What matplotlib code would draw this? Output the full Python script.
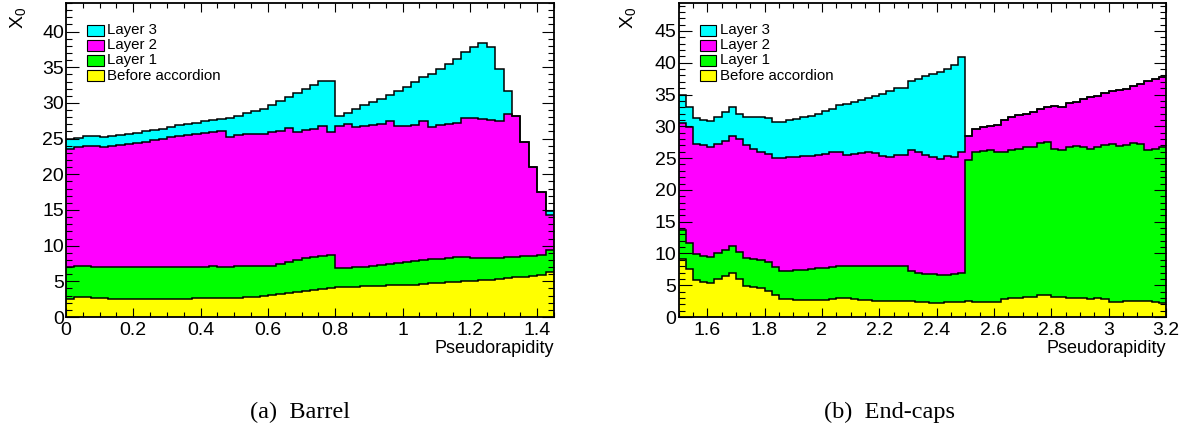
import numpy as np
import matplotlib
matplotlib.use('Agg')
import matplotlib.pyplot as plt
from matplotlib.ticker import MultipleLocator, FormatStrFormatter
from matplotlib.patches import Rectangle

plt.rcParams['font.family'] = ['Liberation Sans', 'DejaVu Sans']
plt.rcParams['mathtext.fontset'] = 'custom'
plt.rcParams['mathtext.rm'] = 'Liberation Sans'
plt.rcParams['mathtext.it'] = 'Liberation Sans'

# material in front of / inside the EM calorimeter, in X0, bins of 0.025 in eta
layer_names = ['Before accordion', 'Layer 1', 'Layer 2', 'Layer 3']
layer_colors = ['#ffff00', '#00ff00', '#ff00ff', '#00ffff']

barrel_range = (0.0, 1.45)
barrel_before = [2.5, 2.75, 2.75, 2.65, 2.6, 2.55, 2.5, 2.5, 2.5, 2.5,
                 2.5, 2.55, 2.55, 2.55, 2.55, 2.6, 2.6, 2.6, 2.6, 2.6,
                 2.65, 2.75, 2.85, 2.95, 3.1, 3.2, 3.4, 3.5, 3.6, 3.8,
                 3.9, 4.05, 4.15, 4.2, 4.25, 4.3, 4.35, 4.4, 4.45, 4.45,
                 4.5, 4.55, 4.6, 4.7, 4.75, 4.85, 4.9, 5.0, 5.1, 5.2,
                 5.25, 5.35, 5.45, 5.55, 5.65, 5.75, 5.9, 6.35]
barrel_layer1 = [4.45, 4.35, 4.35, 4.4, 4.4, 4.45, 4.5, 4.5, 4.5, 4.5,
                 4.5, 4.5, 4.5, 4.5, 4.5, 4.45, 4.45, 4.5, 4.45, 4.45,
                 4.45, 4.45, 4.25, 4.2, 4.1, 4.2, 4.3, 4.5, 4.6, 4.6,
                 4.6, 4.65, 2.65, 2.65, 2.7, 2.75, 2.8, 2.9, 2.95, 3.05,
                 3.2, 3.3, 3.4, 3.4, 3.4, 3.4, 3.45, 3.35, 3.15, 3.0,
                 2.95, 2.9, 2.9, 2.9, 2.85, 2.8, 2.8, 3.05]
barrel_layer2 = [16.55, 16.7, 16.8, 16.9, 16.8, 16.95, 17.1, 17.25, 17.4, 17.55,
                 17.8, 17.9, 18.15, 18.3, 18.45, 18.6, 18.75, 18.8, 18.95, 18.15,
                 18.4, 18.5, 18.6, 18.45, 18.7, 18.7, 18.8, 17.9, 18.0, 17.9,
                 18.3, 17.2, 19.9, 20.25, 19.65, 19.75, 19.75, 19.7, 20.1, 19.2,
                 19.1, 19.05, 19.5, 18.5, 18.75, 18.75, 18.85, 19.6, 19.7, 19.6,
                 19.4, 19.25, 20.15, 19.65, 16.0, 12.45, 8.8, 4.9]
barrel_layer3 = [1.5, 1.35, 1.4, 1.35, 1.4, 1.4, 1.4, 1.35, 1.4, 1.45,
                 1.35, 1.45, 1.4, 1.5, 1.5, 1.55, 1.65, 1.7, 1.8, 2.7,
                 2.6, 2.9, 3.2, 3.6, 3.8, 4.1, 4.3, 5.5, 5.7, 6.2,
                 6.3, 7.2, 1.4, 1.5, 2.5, 2.9, 3.2, 3.6, 3.65, 5.0,
                 5.4, 6.0, 6.1, 7.5, 7.8, 8.5, 9.0, 9.15, 9.85, 10.6,
                 10.2, 7.3, 3.2, 0.0, 0.0, 0.0, 0.0, 0.6]

endcap_range = (1.5, 3.2)
endcap_before = [9.2, 7.6, 5.8, 5.55, 5.4, 5.9, 6.45, 7.0, 5.9, 4.9,
                 4.7, 4.5, 4.15, 3.45, 2.8, 2.8, 2.7, 2.7, 2.7, 2.7,
                 2.75, 2.85, 2.95, 2.95, 2.8, 2.7, 2.6, 2.55, 2.55, 2.5,
                 2.45, 2.45, 2.45, 2.35, 2.3, 2.25, 2.25, 2.3, 2.35, 2.4,
                 2.45, 2.35, 2.35, 2.3, 2.35, 2.8, 2.95, 3.0, 3.1, 3.2,
                 3.4, 3.45, 3.2, 3.1, 3.0, 2.95, 2.95, 2.9, 2.95, 2.8,
                 2.4, 2.4, 2.45, 2.5, 2.55, 2.5, 2.4, 2.15]
endcap_layer1 = [4.5, 4.0, 4.1, 4.05, 4.1, 4.2, 4.15, 4.2, 4.3, 4.4,
                 4.4, 4.5, 4.45, 4.45, 4.5, 4.5, 4.7, 4.7, 4.8, 4.95,
                 5.0, 5.05, 5.05, 5.05, 5.25, 5.4, 5.5, 5.55, 5.5, 5.55,
                 5.55, 5.55, 4.85, 4.55, 4.5, 4.55, 4.4, 4.35, 4.45, 4.5,
                 22.25, 23.65, 23.75, 23.9, 23.65, 23.2, 23.35, 23.5, 23.6, 23.6,
                 23.9, 24.15, 23.3, 23.2, 23.8, 23.95, 23.75, 23.5, 23.85, 24.3,
                 24.8, 24.5, 24.65, 24.9, 24.65, 23.8, 24.1, 24.55]
endcap_layer2 = [16.8, 18.3, 17.3, 17.5, 17.3, 17.1, 17.1, 17.3, 17.8, 17.8,
                 17.3, 17.0, 17.0, 17.1, 17.7, 17.8, 17.8, 17.9, 17.9, 17.85,
                 17.95, 18.1, 17.9, 17.5, 17.65, 17.7, 17.8, 17.7, 17.25, 17.15,
                 17.5, 17.5, 18.9, 19.0, 18.7, 18.4, 18.15, 18.65, 18.4, 19.1,
                 3.8, 3.5, 3.8, 3.8, 4.2, 5.0, 5.2, 5.3, 5.3, 5.5,
                 5.5, 5.4, 6.7, 6.7, 6.8, 7.0, 7.6, 8.2, 8.0, 8.2,
                 8.4, 8.8, 8.7, 8.9, 9.5, 10.9, 11.0, 11.1]
endcap_layer3 = [4.5, 3.2, 4.05, 3.9, 4.1, 4.3, 4.6, 4.5, 4.0, 4.4,
                 5.1, 5.5, 5.65, 5.6, 5.6, 5.9, 6.0, 6.1, 6.2, 6.5,
                 6.7, 6.8, 7.5, 8.0, 8.2, 8.4, 8.5, 8.9, 9.8, 10.3,
                 10.6, 10.6, 10.9, 11.6, 12.4, 13.0, 13.8, 13.7, 14.4, 14.85,
                 0, 0, 0, 0, 0, 0, 0, 0, 0, 0,
                 0, 0, 0, 0, 0, 0, 0, 0, 0, 0,
                 0, 0, 0, 0, 0, 0, 0, 0]


def draw_stack(ax, xrange, layers, ymax):
  nbins = len(layers[0])
  edges = np.linspace(xrange[0], xrange[1], nbins + 1)
  tops = np.cumsum(np.array(layers), axis=0)
  # like THStack: draw the summed histograms from the top one down
  for i in range(len(layers) - 1, -1, -1):
    ax.stairs(tops[i], edges, baseline=0, fill=True, color=layer_colors[i], lw=0)
  for i in range(len(layers) - 1, -1, -1):
    ax.stairs(tops[i], edges, baseline=None, color='black', lw=1.1)

  ax.set_xlim(xrange)
  ax.set_ylim(0, ymax)
  ax.xaxis.set_major_locator(MultipleLocator(0.2))
  ax.xaxis.set_minor_locator(MultipleLocator(0.05))
  ax.yaxis.set_major_locator(MultipleLocator(5))
  ax.yaxis.set_minor_locator(MultipleLocator(1))
  ax.xaxis.set_major_formatter(FormatStrFormatter('%g'))
  ax.yaxis.set_major_formatter(FormatStrFormatter('%g'))
  ax.tick_params(which='both', direction='in', top=True, right=True,
                 width=0.8, labelsize=14, color='black')
  ax.tick_params(axis='x', which='major', length=6.5, pad=3.5)
  ax.tick_params(axis='x', which='minor', length=3.5)
  ax.tick_params(axis='y', which='major', length=9, pad=1.5)
  ax.tick_params(axis='y', which='minor', length=4.5)
  for s in ax.spines.values():
    s.set_linewidth(1.3)

  ax.text(1.0, -0.099, 'Pseudorapidity', transform=ax.transAxes,
          ha='right', va='center', fontsize=13)

  # ROOT-style legend, no frame
  for j, i in enumerate(range(len(layers) - 1, -1, -1)):
    y = 1 - 0.070 - j * 0.0478
    ax.add_patch(Rectangle((0.044, y - 0.035), 0.033, 0.035, transform=ax.transAxes,
                           facecolor=layer_colors[i], edgecolor='black', lw=0.8, zorder=5))
    ax.text(0.085, y - 0.0175, layer_names[i], transform=ax.transAxes,
            ha='left', va='center', fontsize=10.8, zorder=5)


fig = plt.figure(figsize=(11.94, 4.32), dpi=100)
ax1 = fig.add_axes([66 / 1194, 115 / 432, 488 / 1194, 314 / 432])
ax2 = fig.add_axes([678.5 / 1194, 115 / 432, 487.5 / 1194, 314 / 432])

draw_stack(ax1, barrel_range, [barrel_before, barrel_layer1, barrel_layer2, barrel_layer3], 44)
draw_stack(ax2, endcap_range, [endcap_before, endcap_layer1, endcap_layer2, endcap_layer3], 49.4)

ax1.text(-0.098, 0.987, r'$\mathregular{X_0}$', transform=ax1.transAxes,
         rotation=90, ha='center', va='top', fontsize=14)
ax2.text(-0.104, 0.987, r'$\mathregular{X_0}$', transform=ax2.transAxes,
         rotation=90, ha='center', va='top', fontsize=14)

fig.text(300 / 1194, 1 - 412 / 432, '(a)  Barrel', ha='center', va='center',
         family='Liberation Serif', fontsize=17.5)
fig.text(889 / 1194, 1 - 412 / 432, '(b)  End-caps', ha='center', va='center',
         family='Liberation Serif', fontsize=17.5)

fig.savefig('out.png', dpi=100)
